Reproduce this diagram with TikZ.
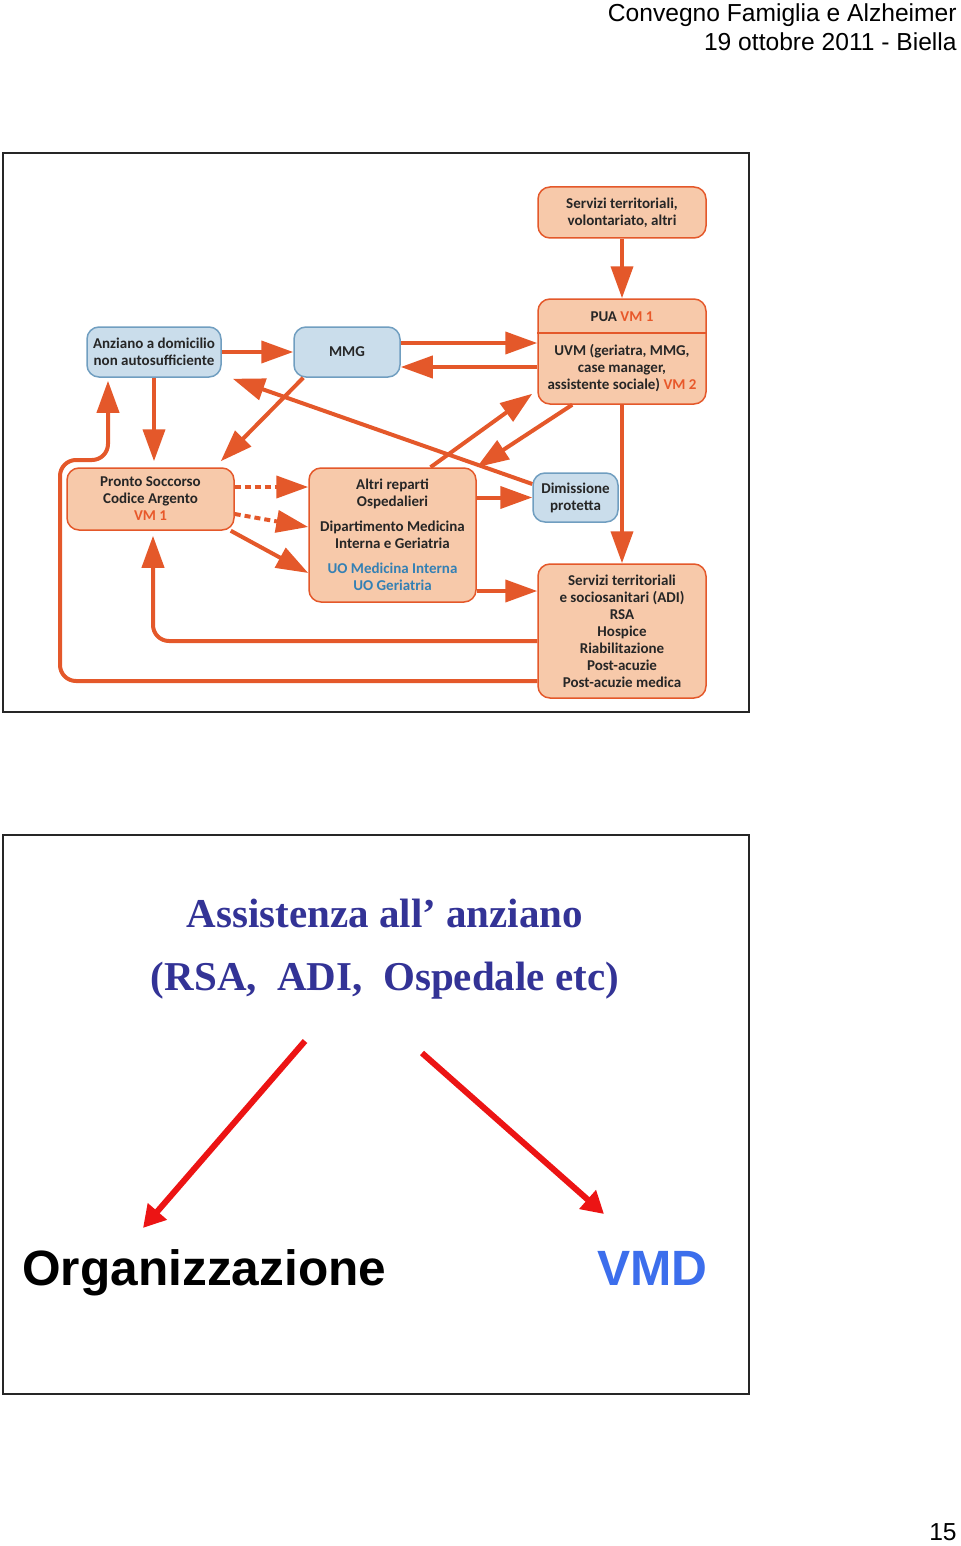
\documentclass[tikz,border=0pt]{standalone}
\usepackage{fontspec}
\setmainfont{Liberation Sans}
\newfontfamily\boxfont{Carlito}
\newfontfamily\titlefont{Liberation Serif}
\usetikzlibrary{arrows.meta}

\definecolor{flow}{RGB}{228,88,42}
\definecolor{peachfill}{RGB}{247,201,170}
\definecolor{bluefill}{RGB}{202,221,235}
\definecolor{blueedge}{RGB}{112,158,192}
\definecolor{boxtext}{RGB}{38,38,38}
\definecolor{vmtext}{RGB}{232,88,42}
\definecolor{uotext}{RGB}{52,128,180}
\definecolor{titleblue}{RGB}{51,51,150}
\definecolor{redarrow}{RGB}{236,20,20}
\definecolor{vmdblue}{RGB}{60,110,236}

\tikzset{
  peach/.style={draw=flow, line width=0.75pt, fill=peachfill, rounded corners=6pt,
    align=center, text=boxtext, inner sep=1pt,
    font=\boxfont\bfseries\fontsize{7.5}{8.5}\selectfont},
  bluebox/.style={peach, draw=blueedge, fill=bluefill},
  flowline/.style={draw=flow, line width=2pt, -{Triangle[length=16pt,width=11pt]}},
  dashflow/.style={flowline, dash pattern=on 3pt off 2pt},
  redline/.style={draw=redarrow, line width=3pt, -{Triangle[length=11pt,width=12pt]}},
  frame/.style={draw=black!85, line width=1pt},
}

\begin{document}
\begin{tikzpicture}[x=0.5pt, y=-0.5pt]
  \useasboundingbox (0,0) rectangle (960,1546);

  % header and page number
  \node[anchor=base east, inner sep=0pt, font=\fontsize{12.3}{14}\selectfont] (head1) at (957,22) {Convegno Famiglia e Alzheimer};
  \node[anchor=base east, inner sep=0pt, font=\fontsize{12.3}{14}\selectfont] (head2) at (957,51) {19 ottobre 2011 - Biella};
  \node[anchor=base east, inner sep=0pt, font=\fontsize{12.3}{14}\selectfont] (pagenum) at (957,1540) {15};

  % upper slide
  \draw[frame] (3,153) rectangle (749,712);

  \node[peach, minimum width=84pt, minimum height=25.5pt] (svtop) at (622,212.5) {Servizi territoriali,\\volontariato, altri};
  \node[peach, minimum width=84pt, minimum height=52.5pt] (pua) at (622,351.5)
    {PUA \textcolor{vmtext}{VM 1}\\[8.5pt]UVM (geriatra, MMG,\\case manager,\\assistente sociale) \textcolor{vmtext}{VM 2}};
  \draw[draw=flow, line width=0.75pt] (pua.west |- 0,333) -- (pua.east |- 0,333);
  \node[bluebox, minimum width=67pt, minimum height=25pt] (anz) at (154,352) {Anziano a domicilio\\non autosufficiente};
  \node[bluebox, minimum width=53pt, minimum height=25pt] (mmg) at (347,352) {MMG};
  \node[peach, minimum width=83.5pt, minimum height=31pt] (ps) at (150.5,499)
    {Pronto Soccorso\\Codice Argento\\\textcolor{vmtext}{VM 1}};
  \node[peach, minimum width=83.5pt, minimum height=67pt] (altri) at (392.5,535)
    {Altri reparti\\Ospedalieri\\[4pt]Dipartimento Medicina\\Interna e Geriatria\\[4pt]\textcolor{uotext}{UO Medicina Interna}\\\textcolor{uotext}{UO Geriatria}};
  \node[bluebox, minimum width=42.5pt, minimum height=24.5pt] (dim) at (575.5,497.5) {Dimissione\\protetta};
  \node[peach, minimum width=84pt, minimum height=67pt] (svbot) at (622,631)
    {Servizi territoriali\\e sociosanitari (ADI)\\RSA\\Hospice\\Riabilitazione\\Post-acuzie\\Post-acuzie medica};

  \draw[flowline] (svtop) -- (pua);
  \draw[flowline] (anz) -- (mmg);
  \draw[flowline] (mmg.east |- 0,343) -- (pua.west |- 0,343);
  \draw[flowline] (pua.west |- 0,367) -- (mmg.east |- 0,367);
  \draw[flowline] (anz.south) -- ([yshift=3pt]anz.south |- ps.north);
  \draw[flowline] ([xshift=5pt]mmg.south west) -- ([xshift=-7pt,yshift=3pt]ps.north east);
  \draw[flowline] (dim.west |- 0,484) -- ([xshift=5.5pt,yshift=-0.5pt]anz.south east);
  \draw[flowline] ([xshift=19pt]altri.north) -- ([xshift=-2.5pt,yshift=5.5pt]pua.south west);
  \draw[flowline] ([xshift=17.5pt]pua.south west) -- (altri.north east);
  \draw[flowline] (altri.east |- dim) -- (dim.west);
  \draw[flowline] (altri.east |- 0,591) -- (svbot.west |- 0,591);
  \draw[flowline] (pua) -- (svbot);
  \draw[dashflow] (ps.east |- 0,487) -- (altri.west |- 0,487);
  \draw[dashflow] (ps.east |- 0,514) -- (altri.west |- 0,527);
  \draw[flowline] ([xshift=-2pt]ps.south east) -- (altri.west |- 0,573);
  \draw[flowline, rounded corners=8pt] (svbot.west |- 0,641) -- (153,641) -- ([xshift=1.25pt,yshift=-2.5pt]ps.south);
  \draw[flowline, rounded corners=8pt] (svbot.west |- 0,681) -- (60,681) -- (60,460) -- (108,460) -- ([xshift=-23pt,yshift=-1.5pt]anz.south);

  % lower slide
  \draw[frame] (3,835) rectangle (749,1394);

  \node[anchor=base, inner sep=0pt, text=titleblue, font=\titlefont\bfseries\fontsize{20.5}{24}\selectfont] (assist1) at (385,927) {Assistenza all’ anziano};
  \node[anchor=base, inner sep=0pt, text=titleblue, font=\titlefont\bfseries\fontsize{20.5}{24}\selectfont] (assist2) at (385,990) {(RSA,\ \ ADI,\ \ Ospedale etc)};
  \node[anchor=base west, inner sep=0pt, font=\bfseries\fontsize{24.8}{28}\selectfont] (org) at (22,1285) {Organizzazione};
  \node[anchor=base west, inner sep=0pt, text=vmdblue, font=\bfseries\fontsize{24.8}{28}\selectfont] (vmd) at (597,1285) {VMD};

  \coordinate (lstart) at (305,1041);
  \coordinate (lend) at (143,1228);
  \coordinate (rstart) at (422,1053);
  \coordinate (rend) at (604,1214);
  \draw[redline] (lstart) -- (lend);
  \draw[redline] (rstart) -- (rend);
\end{tikzpicture}
\end{document}
